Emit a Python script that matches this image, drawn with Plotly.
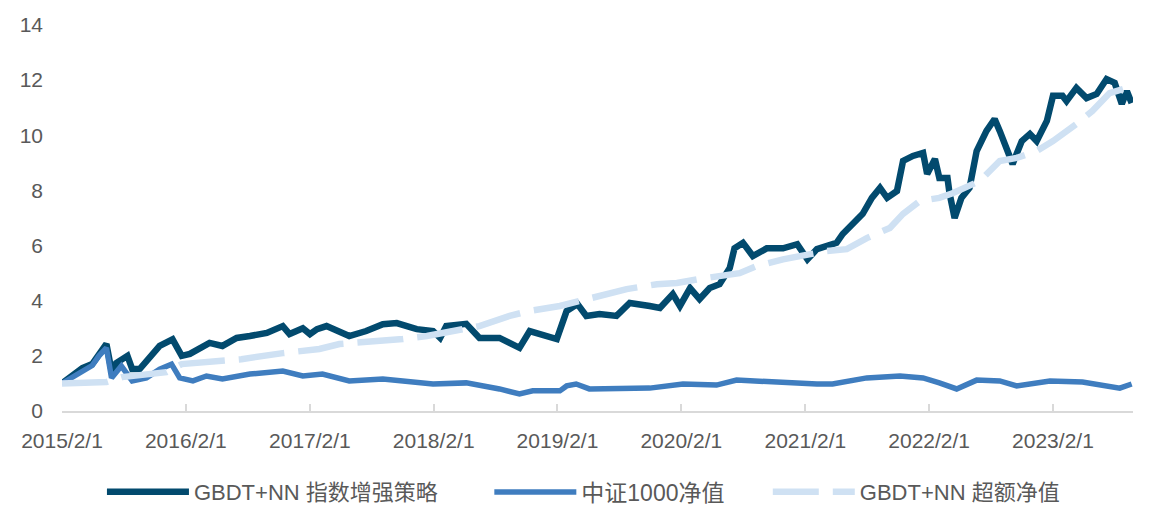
import plotly.graph_objects as go

# ---- data ----
strategy_dates = [
    "2015-02-01", "2015-04-02", "2015-05-01", "2015-05-21", "2015-06-12", "2015-06-30",
    "2015-07-11", "2015-08-13", "2015-08-27", "2015-09-18", "2015-10-17", "2015-11-16",
    "2015-12-24", "2016-01-20", "2016-02-13", "2016-03-12", "2016-04-11", "2016-05-19",
    "2016-06-30", "2016-08-08", "2016-09-27", "2016-11-13", "2016-12-03", "2017-01-11",
    "2017-02-01", "2017-02-22", "2017-03-22", "2017-05-28", "2017-07-17", "2017-09-04",
    "2017-10-15", "2017-12-13", "2018-01-30", "2018-02-20", "2018-03-10", "2018-05-08",
    "2018-06-16", "2018-08-14", "2018-10-12", "2018-11-11", "2018-12-10", "2019-01-30",
    "2019-02-28", "2019-04-01", "2019-04-27", "2019-06-05", "2019-07-25", "2019-09-02",
    "2019-10-31", "2019-11-30", "2020-01-07", "2020-01-28", "2020-02-27", "2020-03-26",
    "2020-04-25", "2020-05-24", "2020-06-23", "2020-07-07", "2020-08-01", "2020-08-30",
    "2020-10-10", "2020-11-27", "2021-01-08", "2021-02-07", "2021-03-07", "2021-04-05",
    "2021-05-04", "2021-05-22", "2021-06-21", "2021-07-20", "2021-08-16", "2021-09-09",
    "2021-09-30", "2021-10-29", "2021-11-16", "2021-12-15", "2022-01-14", "2022-01-26",
    "2022-02-18", "2022-03-03", "2022-03-27", "2022-04-02", "2022-04-17", "2022-05-07",
    "2022-05-31", "2022-06-21", "2022-07-20", "2022-08-13", "2022-08-28", "2022-09-18",
    "2022-10-05", "2022-11-01", "2022-11-25", "2022-12-15", "2023-01-14", "2023-02-01",
    "2023-03-01", "2023-03-13", "2023-04-11", "2023-05-11", "2023-06-10", "2023-07-09",
    "2023-08-02", "2023-08-23", "2023-09-07", "2023-09-21",
]
strategy_values = [
    1.00, 1.56, 1.70, 2.07, 2.43, 1.27,
    1.74, 2.00, 1.52, 1.52, 1.92, 2.36,
    2.60, 2.00, 2.07, 2.29, 2.47, 2.36,
    2.65, 2.72, 2.83, 3.08, 2.79, 3.00,
    2.79, 2.97, 3.08, 2.72, 2.90, 3.15,
    3.19, 2.97, 2.90, 2.65, 3.08, 3.16,
    2.65, 2.65, 2.29, 2.90, 2.79, 2.61,
    3.63, 3.88, 3.45, 3.52, 3.45, 3.92,
    3.81, 3.74, 4.24, 3.81, 4.46, 4.06,
    4.46, 4.60, 5.19, 5.90, 6.10, 5.62,
    5.90, 5.90, 6.05, 5.50, 5.87, 5.98,
    6.10, 6.42, 6.78, 7.15, 7.73, 8.09,
    7.73, 7.98, 9.07, 9.25, 9.36, 8.60,
    9.14, 8.45, 8.45, 7.90, 7.00, 7.73,
    8.09, 9.43, 10.16, 10.59, 10.16, 9.50,
    8.96, 9.79, 10.05, 9.79, 10.52, 11.43,
    11.43, 11.24, 11.72, 11.35, 11.50, 12.04,
    11.90, 11.14, 11.60, 11.17,
]

csi1000_dates = [
    "2015-02-01", "2015-04-02", "2015-05-01", "2015-05-21", "2015-06-12", "2015-06-27",
    "2015-07-26", "2015-08-27", "2015-10-08", "2015-11-16", "2015-12-21", "2016-01-14",
    "2016-02-22", "2016-04-02", "2016-05-19", "2016-08-08", "2016-11-13", "2017-01-11",
    "2017-03-10", "2017-05-28", "2017-09-04", "2018-01-30", "2018-05-08", "2018-08-14",
    "2018-10-12", "2018-11-20", "2019-02-08", "2019-02-28", "2019-03-28", "2019-05-06",
    "2019-07-25", "2019-10-31", "2020-02-06", "2020-05-15", "2020-07-13", "2020-11-27",
    "2021-03-07", "2021-04-22", "2021-08-01", "2021-11-07", "2022-01-14", "2022-03-03",
    "2022-04-23", "2022-06-21", "2022-08-28", "2022-10-17", "2023-01-23", "2023-04-29",
    "2023-08-17", "2023-09-21",
]
csi1000_values = [
    1.00, 1.45, 1.65, 2.00, 2.29, 1.20,
    1.63, 1.09, 1.20, 1.52, 1.70, 1.20,
    1.09, 1.27, 1.16, 1.34, 1.45, 1.27,
    1.34, 1.09, 1.16, 0.98, 1.02, 0.80,
    0.62, 0.73, 0.73, 0.91, 0.98, 0.80,
    0.80, 0.83, 0.98, 0.94, 1.12, 1.02,
    0.98, 0.98, 1.20, 1.27, 1.20, 1.02,
    0.80, 1.12, 1.09, 0.91, 1.09, 1.05,
    0.83, 0.98,
]

excess_dates = [
    "2015-02-01", "2015-06-12", "2015-07-28", "2015-12-06", "2016-01-20", "2016-05-10",
    "2016-07-14", "2016-11-13", "2017-01-03", "2017-03-01", "2017-04-29", "2017-06-27",
    "2017-11-02", "2018-01-12", "2018-03-28", "2018-06-16", "2018-09-13", "2018-11-11",
    "2019-02-08", "2019-04-07", "2019-06-14", "2019-08-24", "2019-11-21", "2020-01-19",
    "2020-03-26", "2020-05-15", "2020-07-22", "2020-09-11", "2020-11-27", "2021-02-16",
    "2021-04-05", "2021-06-03", "2021-08-01", "2021-10-08", "2021-11-16", "2022-01-05",
    "2022-03-03", "2022-04-11", "2022-06-30", "2022-08-28", "2022-10-17", "2022-12-15",
    "2023-02-01", "2023-04-11", "2023-05-28", "2023-07-18", "2023-09-07", "2023-09-24",
]
excess_values = [
    1.00, 1.05, 1.23, 1.41, 1.70, 1.81,
    1.88, 2.10, 2.18, 2.25, 2.43, 2.47,
    2.61, 2.72, 2.90, 3.08, 3.45, 3.63,
    3.81, 3.99, 4.17, 4.42, 4.60, 4.64,
    4.79, 4.90, 5.00, 5.26, 5.50, 5.69,
    5.80, 5.87, 6.27, 6.64, 7.15, 7.62,
    7.73, 7.90, 8.34, 9.07, 9.18, 9.43,
    9.79, 10.41, 10.88, 11.53, 11.72, 11.72,
]

series_names = ["GBDT+NN 指数增强策略", "中证1000净值", "GBDT+NN 超额净值"]
tick_dates = ["2015-02-01", "2016-02-01", "2017-02-01", "2018-02-01", "2019-02-01",
              "2020-02-01", "2021-02-01", "2022-02-01", "2023-02-01"]
tick_labels = ["2015/2/1", "2016/2/1", "2017/2/1", "2018/2/1", "2019/2/1",
               "2020/2/1", "2021/2/1", "2022/2/1", "2023/2/1"]
y_ticks = [0, 2, 4, 6, 8, 10, 12, 14]

FONT = "Liberation Sans, Arial, Noto Sans CJK SC, sans-serif"
GRAY = "#595959"

fig = go.Figure()
fig.add_trace(go.Scatter(x=strategy_dates, y=strategy_values, mode="lines",
                         name=series_names[0], legend="legend",
                         line=dict(color="#024A6E", width=6.5)))
fig.add_trace(go.Scatter(x=csi1000_dates, y=csi1000_values, mode="lines",
                         name=series_names[1], legend="legend2",
                         line=dict(color="#3F7DBF", width=5.5)))
fig.add_trace(go.Scatter(x=excess_dates, y=excess_values, mode="lines",
                         name=series_names[2], legend="legend3",
                         line=dict(color="#CFE1F3", width=6.5, dash="46px,14px")))

def legend_at(xp, size=22):
    return dict(orientation="h", x=xp, xanchor="left", y=-0.21, yanchor="middle",
                font=dict(size=size, color=GRAY, family=FONT),
                itemwidth=82, bgcolor="rgba(0,0,0,0)")

# the page body adds an 8px offset, so margins are shifted to compensate
fig.update_layout(
    width=1149, height=519,
    margin=dict(l=54, r=24, t=17, b=116, autoexpand=False),
    paper_bgcolor="white", plot_bgcolor="white",
    font=dict(family=FONT, color=GRAY, size=21),
    showlegend=True,
    legend=legend_at(0.0373),
    legend2=legend_at(0.399, 23),
    legend3=legend_at(0.659),
    xaxis=dict(type="date", range=["2015-02-01", "2023-09-25"],
               tickvals=tick_dates, ticktext=tick_labels, automargin=False,
               showline=True, linecolor="#D9D9D9", linewidth=2,
               ticks="inside", ticklen=7, tickwidth=2, tickcolor="#D9D9D9",
               showgrid=False, zeroline=False,
               tickfont=dict(size=21, color=GRAY), ticklabelstandoff=10),
    yaxis=dict(range=[0, 14], tickvals=y_ticks, showgrid=False, zeroline=False,
               automargin=False,
               showline=False, ticks="", tickfont=dict(size=21, color=GRAY),
               ticklabelstandoff=18),
)

fig.write_html("out.html")
